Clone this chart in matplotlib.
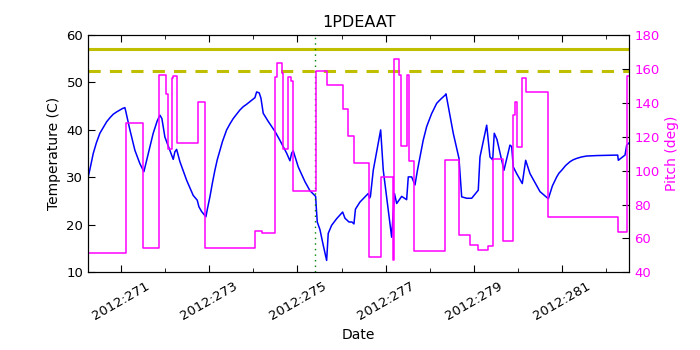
import numpy as np
import matplotlib
matplotlib.use('Agg')
import matplotlib.pyplot as plt
from matplotlib.ticker import MultipleLocator, FixedLocator, FuncFormatter

# day of year 2012 (fractional) and 1PDEAAT temperature (C)
temp_days = [270.254, 270.300, 270.367, 270.440, 270.519, 270.600, 270.671, 270.750,
             270.821, 270.900, 270.973, 271.030, 271.086, 271.109,
             271.200, 271.313, 271.426, 271.517, 271.615, 271.728, 271.819, 271.880,
             271.925, 271.993, 272.107, 272.182, 272.220, 272.259, 272.334, 272.486,
             272.635, 272.726, 272.765, 272.826, 272.923, 272.960, 273.014, 273.070,
             273.127, 273.180, 273.241, 273.300, 273.393, 273.470, 273.543, 273.620,
             273.694, 273.770, 273.846, 273.940, 274.035, 274.073, 274.132, 274.171,
             274.223, 274.336, 274.488, 274.602, 274.754, 274.829, 274.867, 274.903,
             275.017, 275.169, 275.282, 275.411, 275.425, 275.448, 275.509, 275.584,
             275.661, 275.697, 275.774, 275.888, 276.024, 276.076, 276.167, 276.235,
             276.280, 276.314, 276.416, 276.604, 276.632, 276.654, 276.718, 276.886,
             276.945, 277.135, 277.199, 277.249, 277.362, 277.475, 277.512, 277.589,
             277.664, 277.720, 277.777, 277.850, 277.929, 278.040, 278.156, 278.250,
             278.344, 278.367, 278.532, 278.662,
             278.723, 278.836, 278.950, 279.099, 279.138, 279.290, 279.365, 279.426,
             279.462, 279.523, 279.682, 279.818, 279.857, 279.893, 279.970, 280.097,
             280.174, 280.272, 280.499, 280.688, 280.780, 280.878, 280.930, 280.991,
             281.080, 281.179, 281.250, 281.331, 281.440, 281.558, 281.800,
             282.261, 282.275, 282.427, 282.465, 282.524]
temp_vals = [30.1, 32.0, 35.0, 37.3, 39.3, 40.6, 41.7, 42.6,
             43.3, 43.8, 44.2, 44.5, 44.7, 43.8,
             40.0, 35.7, 32.9, 31.2, 35.0, 39.3, 41.9, 43.1,
             42.4, 38.5, 35.7, 33.8, 35.4, 35.9, 33.3, 29.4,
             26.2, 25.2, 23.8, 22.8, 21.7, 23.5, 25.9, 28.8,
             31.5, 33.7, 35.7, 37.6, 40.0, 41.3, 42.4, 43.3,
             44.2, 44.9, 45.4, 46.1, 46.8, 48.0, 47.8, 46.7,
             43.5, 41.8, 39.7, 37.8, 35.1, 33.5, 35.1, 35.6,
             32.2, 29.1, 27.2, 26.0, 23.8, 20.6, 19.0, 15.7,
             12.5, 18.2, 19.9, 21.3, 22.7, 21.4, 20.6, 20.6,
             20.2, 23.3, 24.8, 26.6, 25.6, 26.0, 31.5, 40.0,
             31.5, 17.4, 26.6, 24.5, 26.0, 25.3, 30.1, 30.1,
             28.4, 31.5, 34.3, 37.8, 40.7, 43.4, 45.6, 46.5,
             47.3, 47.6, 39.3, 34.0,
             25.9, 25.6, 25.6, 27.3, 34.3, 41.0, 34.3, 33.7,
             39.3, 38.0, 31.5, 36.8, 36.5, 32.2, 30.8, 28.7,
             33.6, 30.8, 27.0, 25.5, 28.2, 30.1, 30.9, 31.5,
             32.5, 33.3, 33.7, 34.0, 34.3, 34.5, 34.6,
             34.7, 33.6, 34.7, 36.8, 37.3]

# pitch (deg), held constant from each day until the next
pitch_days = [270.254, 271.102, 271.501, 271.864, 272.016, 272.068, 272.145, 272.175,
              272.259, 272.749, 272.901, 274.035, 274.187, 274.488, 274.527, 274.640,
              274.677, 274.790, 274.844, 274.890, 275.411, 275.661, 276.037, 276.151,
              276.280, 276.627, 276.886, 277.158, 277.194, 277.308, 277.346, 277.475,
              277.528, 277.652, 278.344, 278.662, 278.911, 279.099, 279.313, 279.440,
              279.666, 279.880, 279.932, 279.984, 280.084, 280.174, 280.688, 282.261,
              282.479, 282.524]
pitch_vals = [51.1, 127.8, 54.4, 156.2, 145.2, 112.7, 154.8, 156.0,
              116.0, 140.6, 54.4, 64.6, 63.2, 155.0, 163.7, 157.4,
              113.0, 155.4, 153.0, 87.9, 158.9, 150.3, 136.3, 120.3,
              104.2, 49.0, 96.3, 47.1, 165.8, 156.4, 114.4, 156.4,
              105.6, 52.4, 106.2, 61.9, 56.0, 53.0, 55.6, 107.1,
              58.3, 132.7, 140.6, 114.0, 154.8, 146.1, 72.7, 63.9,
              156.0, 156.0]

yellow_limit = 57.0
planning_limit = 52.5
now_day = 275.40
label_days = [271, 273, 275, 277, 279, 281]

plt.rcParams['font.family'] = 'DejaVu Sans'
plt.rcParams['xtick.direction'] = 'in'
plt.rcParams['ytick.direction'] = 'in'

fig = plt.figure(figsize=(7, 3.5), dpi=100)
ax = fig.add_axes([0.126, 0.222, 0.773, 0.678])

ax.plot(temp_days, temp_vals, color='blue', linewidth=1.1)
ax.axhline(yellow_limit, color=(0.75, 0.75, 0), linewidth=2.2)
ax.axhline(planning_limit, color=(0.75, 0.75, 0), linewidth=2.2, linestyle='--', dashes=(4, 3))
ax.axvline(now_day, color=(0, 0.5, 0), linestyle=':', linewidth=1.0, dashes=(1, 3))

ax.set_xlim(temp_days[0], temp_days[-1])
ax.set_ylim(10, 60)
ax.set_title('1PDEAAT', fontsize=11.5)
ax.set_xlabel('Date', fontsize=10)
ax.set_ylabel('Temperature (C)', fontsize=10)

ax.xaxis.set_major_locator(FixedLocator(label_days))
ax.xaxis.set_minor_locator(MultipleLocator(1))
ax.xaxis.set_major_formatter(FuncFormatter(lambda d, p: '2012:%03d' % int(round(d))))
ax.yaxis.set_major_locator(MultipleLocator(10))
ax.tick_params(axis='x', which='both', top=True, bottom=True)
ax.tick_params(axis='x', which='major', length=5, labelsize=9.5, rotation=30, pad=5)
ax.tick_params(axis='x', which='minor', length=3)
ax.tick_params(axis='y', which='major', length=5, labelsize=9.5)

ax2 = ax.twinx()
ax2.plot(pitch_days, pitch_vals, color='#ff00ff', linewidth=1.1, drawstyle='steps-post')
ax2.set_ylim(40, 180)
ax2.set_xlim(temp_days[0], temp_days[-1])
ax2.yaxis.set_major_locator(MultipleLocator(20))
ax2.set_ylabel('Pitch (deg)', color='#ff00ff', fontsize=10)
ax2.tick_params(axis='y', which='major', length=5, labelsize=9.5, labelcolor='#ff00ff')

plt.savefig('out.png', dpi=100)
